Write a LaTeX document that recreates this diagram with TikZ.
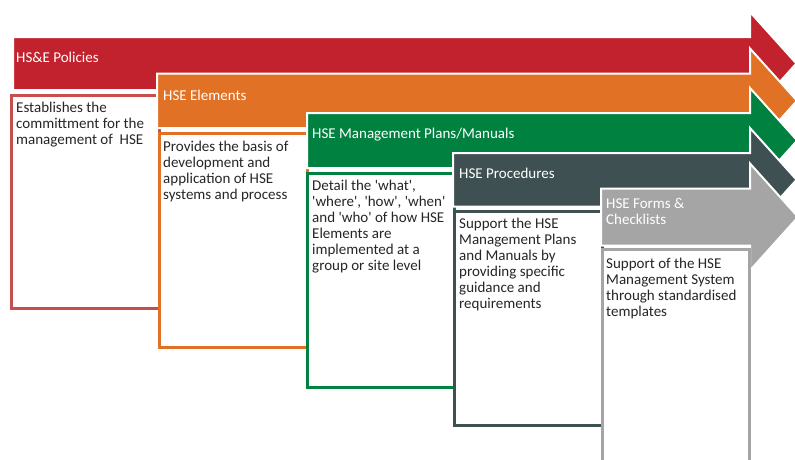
\documentclass[tikz,border=0pt]{standalone}
\usepackage{fontspec}
\setmainfont{Carlito}
\usetikzlibrary{calc}

\definecolor{hsred}{RGB}{193,34,46}
\definecolor{hsorange}{RGB}{225,113,36}
\definecolor{hsgreen}{RGB}{0,129,64}
\definecolor{hsslate}{RGB}{62,80,81}
\definecolor{hsgray}{RGB}{165,165,165}
\definecolor{boxred}{RGB}{198,78,76}

\newcommand{\sq}{\textquotesingle}

\begin{document}
\begin{tikzpicture}[x=1pt,y=-1pt,
    bandlabel/.style={anchor=base west,inner sep=0pt,text=white,align=left,
        font=\fontsize{15}{16.5}\selectfont},
    boxtext/.style={anchor=base west,inner sep=0pt,text=black!85,align=left,
        font=\fontsize{15}{16}\selectfont}]

\useasboundingbox (0,0) rectangle (795,459);
\clip (0,0) rectangle (795,459);

\coordinate (bodyend) at (750,0);

% left, top, bottom, colour
\newcommand{\stagearrow}[4]{
    \filldraw[fill=#4,draw=white,line width=2pt]
        (#1,#2) -- (750,#2) -- (750,{#2-25})
        -- ({750+((#3-#2)/2+25)*0.9},{(#2+#3)/2})
        -- (750,{#3+25}) -- (750,#3) -- (#1,#3) -- cycle;
}

% left, top, right, bottom, colour
\newcommand{\stagebox}[5]{
    \filldraw[fill=white,draw=#5,line width=3pt] (#1,#2) rectangle (#3,#4);
}

% text nodes sit on the baseline of their last line
\newcommand{\drawpolicies}{
    \stagearrow{13}{37}{90}{hsred}
    \stagebox{11}{95}{159}{308}{boxred}
    \node[bandlabel] (pol) at (16,62) {HS\&E Policies};
    \node[boxtext] (poltext) at (16,144) {Establishes the\\committment for the\\management of~ HSE};
}

\newcommand{\drawelements}{
    \stagearrow{157}{73.5}{128}{hsorange}
    \stagebox{159}{133}{307}{347}{hsorange}
    \node[bandlabel] (ele) at (163,100) {HSE Elements};
    \node[boxtext] (eletext) at (163,199) {Provides the basis of\\development and\\application of HSE\\systems and process};
}

\newcommand{\drawplans}{
    \stagearrow{307}{113}{168}{hsgreen}
    \stagebox{307}{173}{454}{387}{hsgreen}
    \node[bandlabel] (man) at (312,138) {HSE Management Plans/Manuals};
    \node[boxtext] (mantext) at (312,270) {Detail the \sq what\sq,\\\sq where\sq, \sq how\sq, \sq when\sq\\and \sq who\sq\ of how HSE\\Elements are\\implemented at a\\group or site level};
}

\newcommand{\drawprocedures}{
    \stagearrow{453}{153}{206.5}{hsslate}
    \stagebox{454}{211}{602}{425}{hsslate}
    \node[bandlabel] (pro) at (459,178) {HSE Procedures};
    \node[boxtext] (protext) at (459,308) {Support the HSE\\Management Plans\\and Manuals by\\providing specific\\guidance and\\requirements};
}

\newcommand{\drawforms}{
    \stagearrow{601}{188.5}{245.5}{hsgray}
    \stagebox{602}{249}{749}{475}{hsgray}
    \node[bandlabel] (frm) at (606,224.5) {HSE Forms \&\\Checklists};
    \node[boxtext] (frmtext) at (606,316) {Support of the HSE\\Management System\\through standardised\\templates};
}

    \drawpolicies
    \drawelements
    \drawplans
    \drawprocedures
    \drawforms
\end{tikzpicture}
\end{document}
